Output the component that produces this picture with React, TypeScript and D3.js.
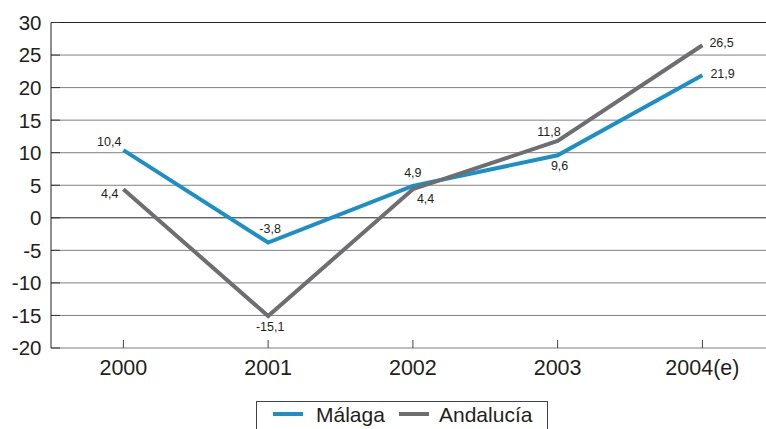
import React from "react";
import * as d3 from "d3";

const categories = ["2000", "2001", "2002", "2003", "2004(e)"];
const malaga = [10.4, -3.8, 4.9, 9.6, 21.9];
const andalucia = [4.4, -15.1, 4.4, 11.8, 26.5];
const yTicks = [30, 25, 20, 15, 10, 5, 0, -5, -10, -15, -20];
const seriesNames = ["Málaga", "Andalucía"];

// label placement offsets [dx, dy, anchor]
const malagaLabelPos: [number, number, string][] = [
  [-2, -4, "end"],
  [2, -10, "middle"],
  [0, -9, "middle"],
  [2, 15, "middle"],
  [8, 3, "start"],
];
const andaluciaLabelPos: [number, number, string][] = [
  [-5, 9, "end"],
  [2, 15, "middle"],
  [4, 14, "start"],
  [3, -5, "end"],
  [7, 2, "start"],
];

const W = 766;
const H = 429;
const FONT = "'Liberation Sans', Arial, Helvetica, sans-serif";
const BLUE = "#1b8fc7";
const GRAY = "#6d6e71";

export default function App() {
  const left = 51;
  const bandW = 144.75;
  const x = d3
    .scaleBand<string>()
    .domain(categories)
    .range([left, left + bandW * categories.length])
    .paddingInner(0)
    .paddingOuter(0);
  const cx = (c: string) => (x(c) as number) + x.bandwidth() / 2;
  const y = d3.scaleLinear().domain([-20, 30]).range([348, 22.5]);

  const line = d3
    .line<number>()
    .x((_, i) => cx(categories[i]))
    .y((d) => y(d));

  const fmt = (v: number) => v.toFixed(1).replace(".", ",");

  const series = [
    { name: seriesNames[0], data: malaga, color: BLUE, pos: malagaLabelPos },
    { name: seriesNames[1], data: andalucia, color: GRAY, pos: andaluciaLabelPos },
  ];

  return (
    <svg
      width={W}
      height={H}
      style={{ position: "absolute", left: 0, top: 0, background: "#fff" }}
      fontFamily={FONT}
    >
      {/* gridlines */}
      {yTicks.map((t) => {
        const dark = t === 30 || t === 0;
        return (
          <g key={t}>
            <line
              x1={left}
              x2={W}
              y1={y(t)}
              y2={y(t)}
              stroke={dark ? "#222" : "#808080"}
              strokeWidth={1}
            />
            <line x1={left} x2={left + 9} y1={y(t)} y2={y(t)} stroke="#333" strokeWidth={1} />
            <text
              x={41.5}
              y={y(t)}
              dy="0.36em"
              textAnchor="end"
              fontSize={20.5}
              fill="#231f20"
            >
              {t}
            </text>
          </g>
        );
      })}
      {/* y axis */}
      <line x1={left} x2={left} y1={y(30)} y2={y(-20)} stroke="#222" strokeWidth={1} />
      {/* x ticks and labels */}
      {categories.map((c) => (
        <g key={c}>
          <line x1={cx(c)} x2={cx(c)} y1={y(-20)} y2={y(-20) - 8} stroke="#444" strokeWidth={1} />
          <text x={cx(c)} y={375} textAnchor="middle" fontSize={21.5} fill="#231f20">
            {c}
          </text>
        </g>
      ))}
      {/* lines */}
      {series.map((s) => (
        <path
          key={s.name}
          d={line(s.data) as string}
          fill="none"
          stroke={s.color}
          strokeWidth={4}
          strokeLinejoin="miter"
        />
      ))}
      {/* data labels */}
      {series.map((s) =>
        s.data.map((v, i) => (
          <text
            key={s.name + i}
            x={cx(categories[i]) + s.pos[i][0]}
            y={y(v) + s.pos[i][1]}
            textAnchor={s.pos[i][2] as any}
            fontSize={12.5}
            fill="#231f20"
          >
            {fmt(v)}
          </text>
        ))
      )}
      {/* legend */}
      <rect x={256.5} y={401.5} width={291} height={40} fill="#fff" stroke="#444" strokeWidth={1} />
      <line x1={273} x2={303} y1={414} y2={414} stroke={BLUE} strokeWidth={4} />
      <text x={316} y={422} fontSize={21} fill="#231f20">
        {seriesNames[0]}
      </text>
      <line x1={399} x2={429} y1={414} y2={414} stroke={GRAY} strokeWidth={4} />
      <text x={439} y={422} fontSize={21} fill="#231f20">
        {seriesNames[1]}
      </text>
    </svg>
  );
}
